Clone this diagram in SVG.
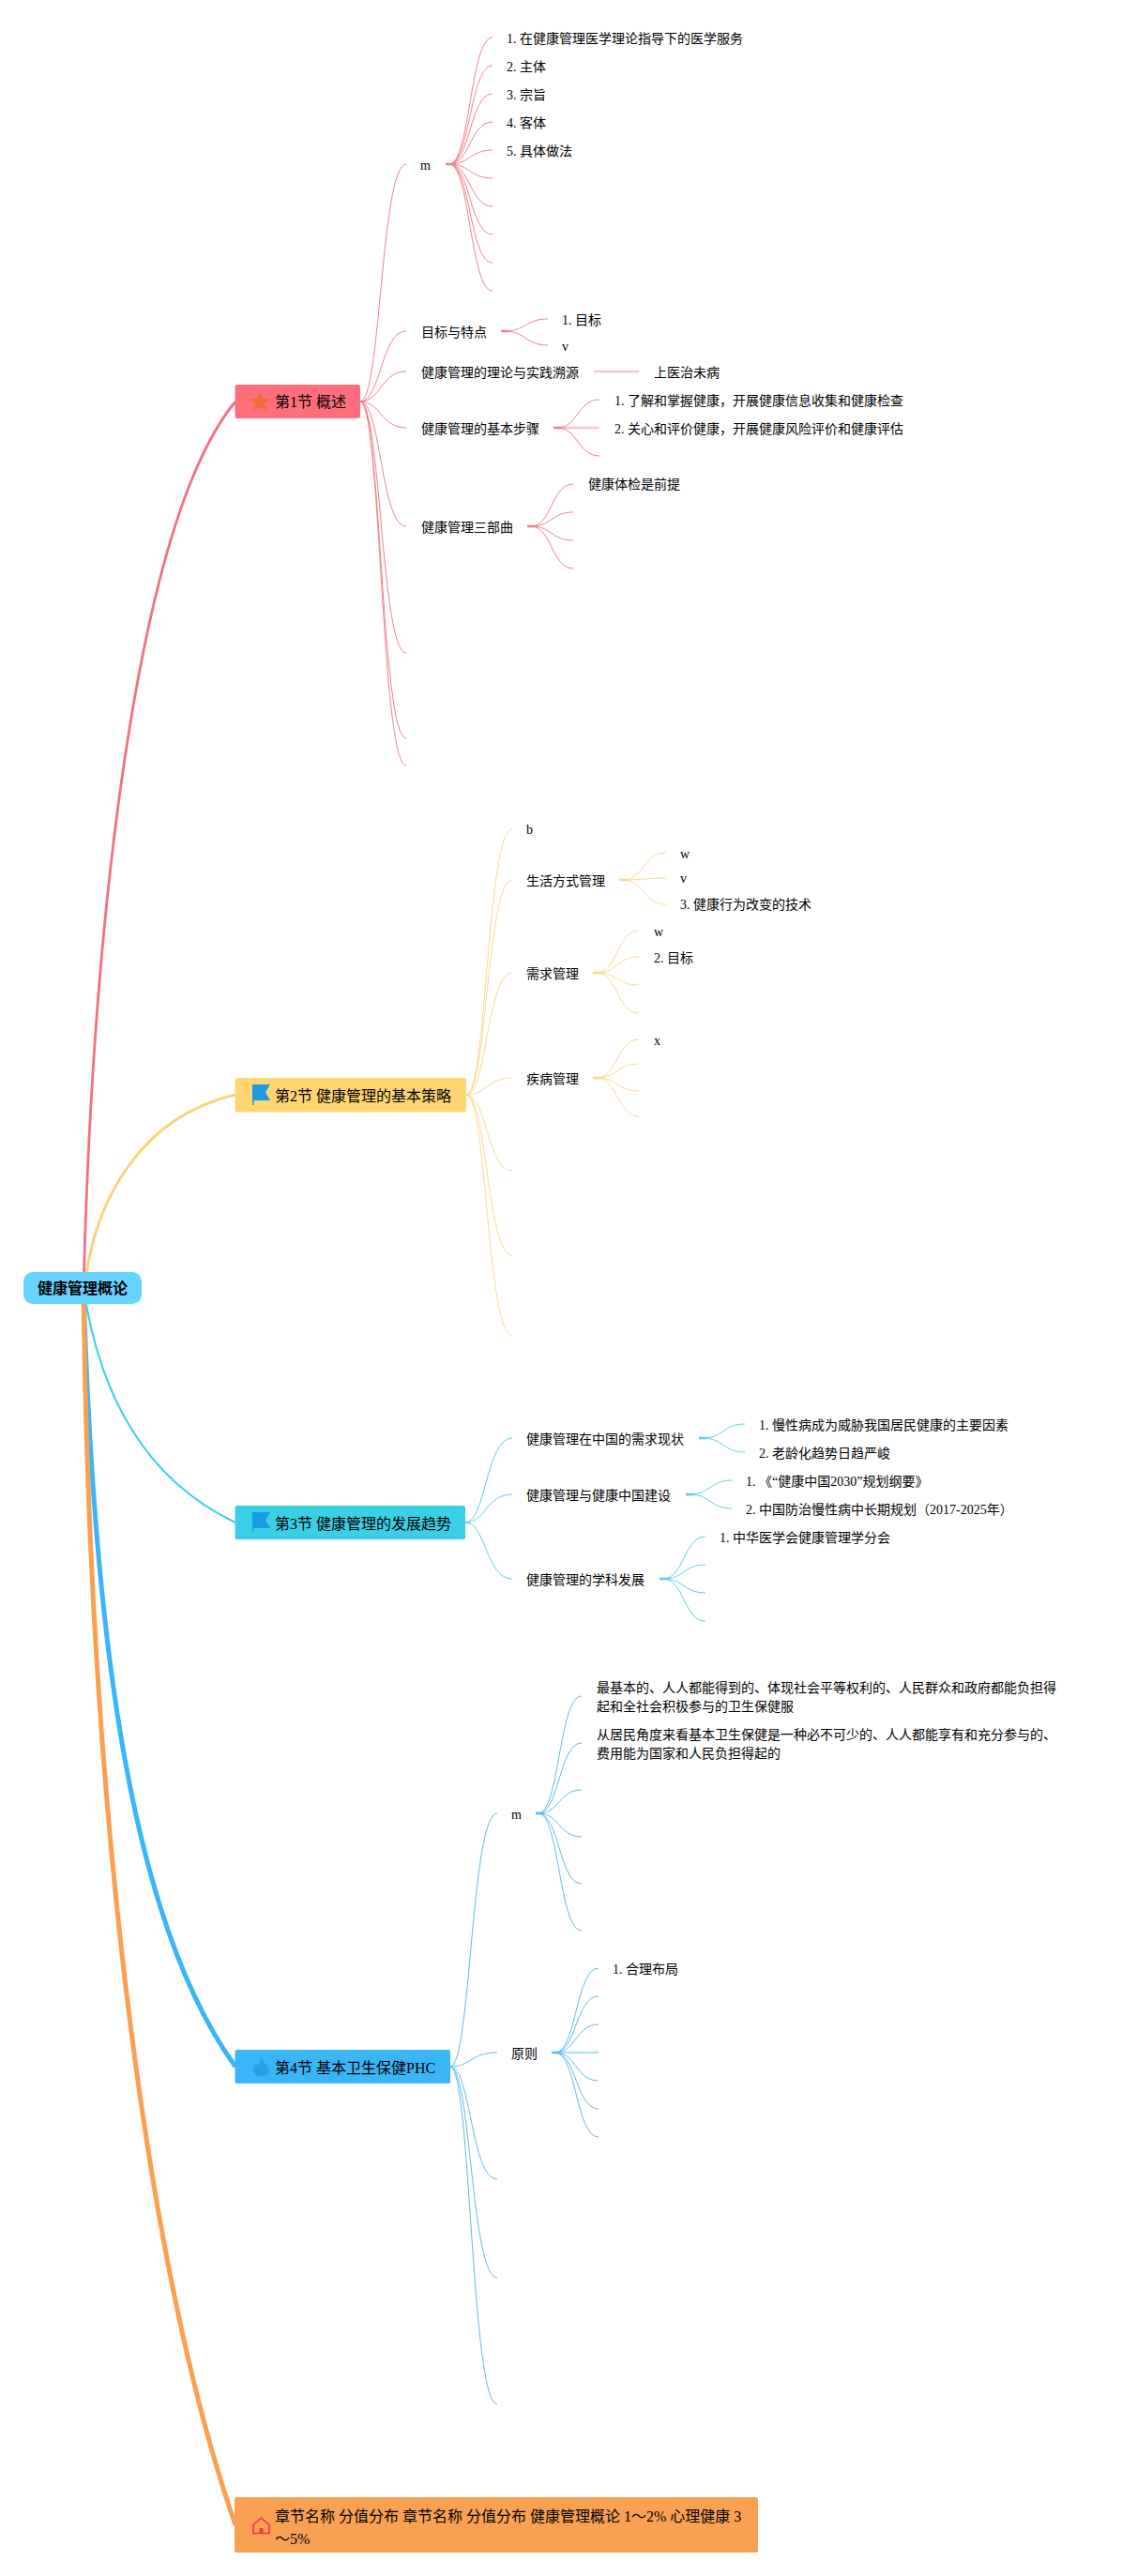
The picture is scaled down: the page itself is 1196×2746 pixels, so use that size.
<svg xmlns="http://www.w3.org/2000/svg" width="1196" height="2746" viewBox="0 0 1196 2746">
<style>
text{font-family:"Liberation Serif","Noto Sans CJK SC",serif;font-size:14px;fill:#000}
.sec{font-size:16px}
.root{font-family:"Noto Sans CJK SC","Liberation Sans",sans-serif;font-size:16px;font-weight:700;fill:#000}
path{fill:none}
.c1{stroke:#f5808e}.c2{stroke:#fbd98c}.c3{stroke:#5ccfe4}.c4{stroke:#5cbcee}
.thin{stroke-width:1}
.stub{stroke-width:2.6}
.flat{stroke-width:2.6;opacity:.45}
</style>
<rect width="1196" height="2746" fill="#fff"/>
<g id="connectors">
<g id="main-links">
<path d="M89 1373C100 950 150 550 251 428" stroke="#f4707f" stroke-width="2.8"/>
<path d="M90 1373C100 1280 150 1190 251 1167" stroke="#fdd27a" stroke-width="3"/>
<path d="M89 1373C105 1480 150 1575 251 1623" stroke="#3bcfe6" stroke-width="2"/>
<path d="M89 1373C100 1750 140 2050 251 2203" stroke="#3ab5f7" stroke-width="5"/>
<path d="M89 1373C95 1900 150 2400 251 2692" stroke="#f9a052" stroke-width="5"/>
</g>
<g class="c1 thin">
<path d="M384 428C406 428 406 175 433 175"/>
<path d="M384 428C406 428 406 353 433 353"/>
<path d="M384 428C406 428 406 396 433 396"/>
<path d="M384 428C406 428 406 456 433 456"/>
<path d="M384 428C406 428 406 561 433 561"/>
<path d="M384 428C406 428 406 696 433 696"/>
<path d="M384 428C406 428 406 787 433 787"/>
<path d="M384 428C406 428 406 816 433 816"/>
<path d="M479 175C501 175 501 40 525 40"/>
<path d="M479 175C501 175 501 70 525 70"/>
<path d="M479 175C501 175 501 100 525 100"/>
<path d="M479 175C501 175 501 130 525 130"/>
<path d="M479 175C501 175 501 160 525 160"/>
<path d="M479 175C501 175 501 190 525 190"/>
<path d="M479 175C501 175 501 220 525 220"/>
<path d="M479 175C501 175 501 250 525 250"/>
<path d="M479 175C501 175 501 280 525 280"/>
<path d="M479 175C501 175 501 310 525 310"/>
<path d="M538 353C560 353 560 340 584 340"/>
<path d="M538 353C560 353 560 368 584 368"/>
<path d="M594 456C616 456 616 426 639 426"/>
<path d="M594 456C616 456 616 486 639 486"/>
<path d="M566 561C588 561 588 516 611 516"/>
<path d="M566 561C588 561 588 546 611 546"/>
<path d="M566 561C588 561 588 576 611 576"/>
<path d="M566 561C588 561 588 606 611 606"/>
</g>
<g class="c1 stub"><path d="M475 175H483"/><path d="M534 353H542"/><path d="M590 456H598"/><path d="M562 561H570"/></g>
<g class="c1 flat"><path d="M633 396H681"/><path d="M594 456H639"/></g>
<g class="c2 thin">
<path d="M497 1167C519 1167 519 884 546 884"/>
<path d="M497 1167C519 1167 519 938 546 938"/>
<path d="M497 1167C519 1167 519 1037 546 1037"/>
<path d="M497 1167C519 1167 519 1149 546 1149"/>
<path d="M497 1167C519 1167 519 1248 546 1248"/>
<path d="M497 1167C519 1167 519 1338 546 1338"/>
<path d="M497 1167C519 1167 519 1424 546 1424"/>
<path d="M664 938C686 938 686 909 710 909"/>
<path d="M664 938C686 938 686 936 710 936"/>
<path d="M664 938C686 938 686 964 710 964"/>
<path d="M636 1037C658 1037 658 992 681 992"/>
<path d="M636 1037C658 1037 658 1020 681 1020"/>
<path d="M636 1037C658 1037 658 1050 681 1050"/>
<path d="M636 1037C658 1037 658 1080 681 1080"/>
<path d="M636 1149C658 1149 658 1108 681 1108"/>
<path d="M636 1149C658 1149 658 1134 681 1134"/>
<path d="M636 1149C658 1149 658 1163 681 1163"/>
<path d="M636 1149C658 1149 658 1190 681 1190"/>
</g>
<g class="c2 stub"><path d="M660 938H668"/><path d="M632 1037H640"/><path d="M632 1149H640"/></g>
<g class="c3 thin">
<path d="M496 1623C518 1623 518 1533 546 1533"/>
<path d="M496 1623C518 1623 518 1593 546 1593"/>
<path d="M496 1623C518 1623 518 1683 546 1683"/>
<path d="M749 1533C771 1533 771 1518 794 1518"/>
<path d="M749 1533C771 1533 771 1548 794 1548"/>
<path d="M735 1593C757 1593 757 1578 780 1578"/>
<path d="M735 1593C757 1593 757 1608 780 1608"/>
<path d="M707 1683C729 1683 729 1638 752 1638"/>
<path d="M707 1683C729 1683 729 1668 752 1668"/>
<path d="M707 1683C729 1683 729 1698 752 1698"/>
<path d="M707 1683C729 1683 729 1728 752 1728"/>
</g>
<g class="c3 stub"><path d="M745 1533H753"/><path d="M731 1593H739"/><path d="M703 1683H711"/></g>
<g class="c4 thin">
<path d="M480 2203C502 2203 502 1933 530 1933"/>
<path d="M480 2203C502 2203 502 2188 530 2188"/>
<path d="M480 2203C502 2203 502 2323 530 2323"/>
<path d="M480 2203C502 2203 502 2428 530 2428"/>
<path d="M480 2203C502 2203 502 2563 530 2563"/>
<path d="M574 1933C596 1933 596 1808 620 1808"/>
<path d="M574 1933C596 1933 596 1858 620 1858"/>
<path d="M574 1933C596 1933 596 1908 620 1908"/>
<path d="M574 1933C596 1933 596 1958 620 1958"/>
<path d="M574 1933C596 1933 596 2008 620 2008"/>
<path d="M574 1933C596 1933 596 2058 620 2058"/>
<path d="M592 2188C614 2188 614 2098 638 2098"/>
<path d="M592 2188C614 2188 614 2128 638 2128"/>
<path d="M592 2188C614 2188 614 2158 638 2158"/>
<path d="M592 2188C614 2188 614 2218 638 2218"/>
<path d="M592 2188C614 2188 614 2248 638 2248"/>
<path d="M592 2188C614 2188 614 2278 638 2278"/>
</g>
<g class="c4 stub"><path d="M571 1933H578"/><path d="M588 2188H596"/></g>
<g class="c4 flat"><path d="M592 2188H638"/></g>
</g>

<g id="root"><rect x="25" y="1356" width="126" height="34" rx="10" fill="#66d4ff"/><text class="root" x="40" y="1379">健康管理概论</text></g>

<g id="sec1"><rect x="250.500" y="410" width="133.500" height="36" rx="2.500" fill="#ff6e7c"/>
<polygon points="277,418 280,425 288,425 282,430 284,438 277,434 270,438 272,430 266,425 274,425" fill="#ee6f35"/>
<text class="sec" x="293" y="434">第1节 概述</text></g>
<g id="sec2"><rect x="250.500" y="1149" width="246.500" height="36.500" rx="2.500" fill="#ffd572"/>
<path d="M269 1156H288L283 1164.500L288 1173H270.500V1178H269Z" style="fill:#1b9ce2"/>
<text class="sec" x="293" y="1174">第2节 健康管理的基本策略</text></g>
<g id="sec3"><rect x="250.500" y="1605" width="245.500" height="36" rx="2.500" fill="#3bcfe6"/>
<path d="M269 1612H288L283 1620.500L288 1629H270.500V1633H269Z" style="fill:#1b9ce2"/>
<text class="sec" x="293" y="1630">第3节 健康管理的发展趋势</text></g>
<g id="sec4"><rect x="250.500" y="2185" width="229.500" height="36" rx="2.500" fill="#3ab5f7"/>
<path d="M279 2193C280 2199 287 2202 287 2207C287 2211 283 2213 278.500 2213C274 2213 270 2211 270 2206C270 2203 272 2201 273 2199C274 2201 275 2202 276 2202C277 2199 277 2196 279 2193Z" style="fill:#2a9fe8"/>
<text class="sec" x="293" y="2210">第4节 基本卫生保健PHC</text></g>
<g id="sec5"><rect x="250" y="2662" width="558" height="59" rx="2.500" fill="#f9a052"/>
<path d="M270 2691.500L278.500 2684L287 2691.500V2700.500H270Z" style="stroke:#e63950;stroke-width:1.600"/>
<rect x="276.500" y="2695" width="4" height="5.500" fill="#e63950"/>
<text class="sec" x="293" y="2688">章节名称 分值分布 章节名称 分值分布 健康管理概论 1～2% 心理健康 3</text>
<text class="sec" x="293" y="2712">～5%</text></g>

<g id="n-m1"><text x="448" y="181">m</text></g>
<g id="n-m1-1"><text x="540" y="46">1. 在健康管理医学理论指导下的医学服务</text></g>
<g id="n-m1-2"><text x="540" y="76">2. 主体</text></g>
<g id="n-m1-3"><text x="540" y="106">3. 宗旨</text></g>
<g id="n-m1-4"><text x="540" y="136">4. 客体</text></g>
<g id="n-m1-5"><text x="540" y="166">5. 具体做法</text></g>
<g id="n-goal"><text x="449" y="359">目标与特点</text></g>
<g id="n-goal-1"><text x="599" y="346">1. 目标</text></g>
<g id="n-goal-2"><text x="599" y="374">v</text></g>
<g id="n-origin"><text x="449" y="402">健康管理的理论与实践溯源</text></g>
<g id="n-origin-1"><text x="697" y="402">上医治未病</text></g>
<g id="n-steps"><text x="449" y="462">健康管理的基本步骤</text></g>
<g id="n-steps-1"><text x="655" y="432">1. 了解和掌握健康，开展健康信息收集和健康检查</text></g>
<g id="n-steps-2"><text x="655" y="462">2. 关心和评价健康，开展健康风险评价和健康评估</text></g>
<g id="n-trilogy"><text x="449" y="567">健康管理三部曲</text></g>
<g id="n-trilogy-1"><text x="627" y="521">健康体检是前提</text></g>

<g id="n-b"><text x="561" y="889">b</text></g>
<g id="n-life"><text x="561" y="944">生活方式管理</text></g>
<g id="n-life-1"><text x="725" y="915">w</text></g>
<g id="n-life-2"><text x="725" y="941">v</text></g>
<g id="n-life-3"><text x="725" y="969">3. 健康行为改变的技术</text></g>
<g id="n-demand"><text x="561" y="1043">需求管理</text></g>
<g id="n-demand-1"><text x="697" y="998">w</text></g>
<g id="n-demand-2"><text x="697" y="1026">2. 目标</text></g>
<g id="n-disease"><text x="561" y="1155">疾病管理</text></g>
<g id="n-disease-1"><text x="697" y="1114">x</text></g>

<g id="n-need"><text x="561" y="1539">健康管理在中国的需求现状</text></g>
<g id="n-need-1"><text x="809" y="1524">1. 慢性病成为威胁我国居民健康的主要因素</text></g>
<g id="n-need-2"><text x="809" y="1554">2. 老龄化趋势日趋严峻</text></g>
<g id="n-build"><text x="561" y="1599">健康管理与健康中国建设</text></g>
<g id="n-build-1"><text x="795" y="1584">1. 《“健康中国2030”规划纲要》</text></g>
<g id="n-build-2"><text x="795" y="1614">2. 中国防治慢性病中长期规划（2017-2025年）</text></g>
<g id="n-disc"><text x="561" y="1689">健康管理的学科发展</text></g>
<g id="n-disc-1"><text x="767" y="1644">1. 中华医学会健康管理学分会</text></g>

<g id="n-m4"><text x="545" y="1939">m</text></g>
<g id="n-m4-1"><text x="636" y="1804">最基本的、人人都能得到的、体现社会平等权利的、人民群众和政府都能负担得</text><text x="636" y="1824">起和全社会积极参与的卫生保健服</text></g>
<g id="n-m4-2"><text x="636" y="1854">从居民角度来看基本卫生保健是一种必不可少的、人人都能享有和充分参与的、</text><text x="636" y="1874">费用能为国家和人民负担得起的</text></g>
<g id="n-principle"><text x="545" y="2194">原则</text></g>
<g id="n-principle-1"><text x="653" y="2104">1. 合理布局</text></g>
</svg>
